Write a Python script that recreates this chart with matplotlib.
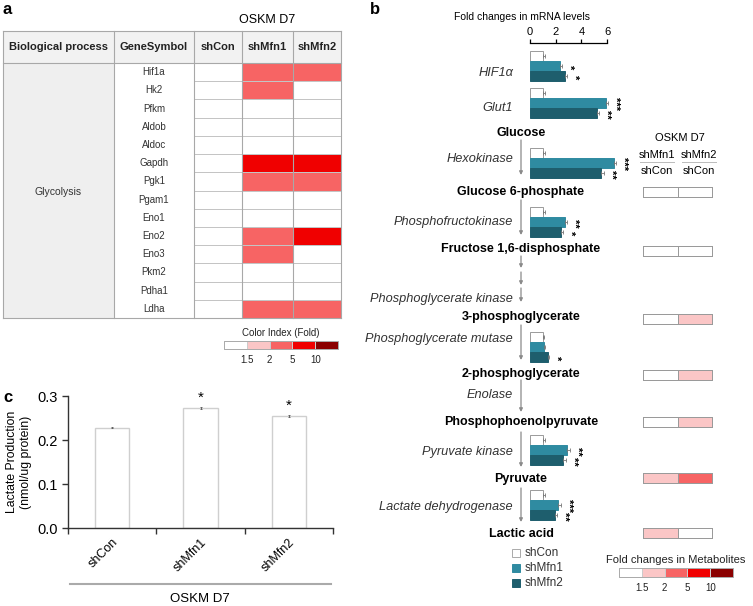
import numpy as np
import matplotlib.pyplot as plt
from matplotlib.colors import ListedColormap, BoundaryNorm
from matplotlib.patches import Rectangle

plt.rcParams['font.family'] = ['Liberation Sans', 'DejaVu Sans']

# ---- data ----
# panel a: fold-change colour class per gene (0: <1.5, 1: 1.5-2, 2: 2-5, 3: 5-10, 4: >10)
genes = ['Hif1a', 'Hk2', 'Pfkm', 'Aldob', 'Aldoc', 'Gapdh', 'Pgk1', 'Pgam1',
         'Eno1', 'Eno2', 'Eno3', 'Pkm2', 'Pdha1', 'Ldha']
table_head = ['Biological process', 'GeneSymbol', 'shCon', 'shMfn1', 'shMfn2']
lvl_shcon = [0, 0, 0, 0, 0, 0, 0, 0, 0, 0, 0, 0, 0, 0]
lvl_mfn1 = [2, 2, 0, 0, 0, 3, 2, 0, 0, 2, 2, 0, 0, 2]
lvl_mfn2 = [2, 0, 0, 0, 0, 3, 2, 0, 0, 3, 0, 0, 0, 2]
fold_ticks = ['1.5', '2', '5', '10']
level_colors = ['#ffffff', '#fbc6c6', '#f76464', '#f00000', '#8b0000']

# panel b: mRNA fold changes
enzymes = ['HIF1α', 'Glut1', 'Hexokinase', 'Phosphofructokinase',
           'Phosphoglycerate mutase', 'Pyruvate kinase', 'Lactate dehydrogenase']
mrna_shcon = [1.0, 1.0, 1.0, 1.0, 1.0, 1.0, 1.0]
mrna_mfn1 = [2.3, 5.9, 6.5, 2.7, 1.1, 2.9, 2.2]
mrna_mfn2 = [2.7, 5.2, 5.55, 2.4, 1.4, 2.6, 1.95]
err_shcon = [0.15, 0.15, 0.15, 0.15, 0.1, 0.15, 0.15]
err_mfn1 = [0.2, 0.2, 0.2, 0.2, 0.1, 0.2, 0.2]
err_mfn2 = [0.2, 0.2, 0.2, 0.15, 0.1, 0.2, 0.15]
stars_mfn1 = ['*', '***', '***', '**', '', '**', '***']
stars_mfn2 = ['*', '**', '**', '*', '*', '**', '**']

# metabolites (fold-change colour class, shMfn/shCon)
metabolites = ['Glucose 6-phosphate', 'Fructose 1,6-disphosphate', '3-phosphoglycerate',
               '2-phosphoglycerate', 'Phosphophoenolpyruvate', 'Pyruvate', 'Lactic acid']
met_mfn1 = [0, 0, 0, 0, 0, 1, 1]
met_mfn2 = [0, 0, 1, 1, 1, 2, 0]

# panel c: lactate production
groups = ['shCon', 'shMfn1', 'shMfn2']
lactate = [0.228, 0.272, 0.254]
lactate_err = [0.001, 0.002, 0.002]
lactate_stars = ['', '*', '*']
lactate_ticks = [0.0, 0.1, 0.2, 0.3]
lactate_ticklabels = ['0.0', '0.1', '0.2', '0.3']

# ---- figure ----
W, H = 753, 606
fig = plt.figure(figsize=(W / 100, H / 100), dpi=100)
cv = fig.add_axes([0, 0, 1, 1])
cv.set_xlim(0, W)
cv.set_ylim(H, 0)
cv.axis('off')

cmap = ListedColormap(level_colors)
norm = BoundaryNorm(np.arange(-0.5, 5.5, 1), cmap.N)
grey = '#a8a8a8'


def px_axes(x0, y0, x1, y1):
    return fig.add_axes([x0 / W, 1 - y1 / H, (x1 - x0) / W, (y1 - y0) / H])


def colour_key(x0, x1, y0, y1, title, title_size):
    edges = np.linspace(x0, x1, 6)
    cv.pcolormesh(edges, [y0, y1], [np.arange(5)], cmap=cmap, norm=norm,
                  edgecolors='#cccccc', linewidth=0.4)
    cv.add_patch(Rectangle((x0, y0), x1 - x0, y1 - y0, fill=False, ec='#aaaaaa', lw=0.7))
    cv.text((x0 + x1) / 2, y0 - 8, title, ha='center', va='center', fontsize=title_size, color='#222222')
    for xe, t in zip(edges[1:5], fold_ticks):
        cv.text(xe, y1 + 11, t, ha='center', va='center', fontsize=7, color='#222222')


# ---- panel a: table ----
cv.text(3, 10, 'a', fontsize=12, fontweight='bold', va='center')
col_x = [3, 114, 194, 242, 293, 341]
top, head_bot, bot = 31, 63, 318
row_edges = np.linspace(head_bot, bot, len(genes) + 1)
cv.text((col_x[2] + col_x[5]) / 2, 20, 'OSKM D7', ha='center', va='center', fontsize=9)
cv.add_patch(Rectangle((col_x[0], top), col_x[5] - col_x[0], head_bot - top, fc='#f2f2f2', ec='none'))
cv.add_patch(Rectangle((col_x[0], head_bot), col_x[1] - col_x[0], bot - head_bot, fc='#efefef', ec='none'))
cv.pcolormesh(col_x[2:], row_edges, np.array([lvl_shcon, lvl_mfn1, lvl_mfn2]).T,
              cmap=cmap, norm=norm, edgecolors='#c4c4c4', linewidth=0.4)
for xc in col_x:
    cv.plot([xc, xc], [top, bot], color=grey, lw=0.8)
for yr in (top, head_bot, bot):
    cv.plot([col_x[0], col_x[5]], [yr, yr], color=grey, lw=0.8)
for i, h in enumerate(table_head):
    cv.text((col_x[i] + col_x[i + 1]) / 2, (top + head_bot) / 2, h, ha='center', va='center',
            fontsize=8, fontweight='bold', color='#222222')
for i, g in enumerate(genes):
    cv.text((col_x[1] + col_x[2]) / 2, (row_edges[i] + row_edges[i + 1]) / 2, g,
            ha='center', va='center', fontsize=7, color='#333333')
cv.text((col_x[0] + col_x[1]) / 2, 192, 'Glycolysis', ha='center', va='center', fontsize=7.5, color='#333333')
colour_key(224, 338, 341, 349, 'Color Index (Fold)', 7)

# ---- panel b: pathway ----
cv.text(370, 10, 'b', fontsize=12, fontweight='bold', va='center')
cv.text(522, 17, 'Fold changes in mRNA levels', ha='center', va='center', fontsize=7.5)
arrow_x = 521
met_y = [133, 192, 249, 317, 374, 422, 479, 534]
for name, y in zip(['Glucose'] + metabolites, met_y):
    cv.text(arrow_x, y, name, ha='center', va='center', fontsize=9, fontweight='bold')
label_y = [73, 108, 159, 222, 339, 452, 507]
enz_style = dict(ha='right', va='center', fontsize=9.2, style='italic', color='#333333')
for name, y in zip(enzymes, label_y):
    cv.text(513, y, name, **enz_style)
cv.text(513, 299, 'Phosphoglycerate kinase', **enz_style)
cv.text(513, 395, 'Enolase', **enz_style)
arrows = [(140, 175), (200, 235), (256, 268), (272, 285), (288, 302), (325, 360),
          (380, 412), (432, 467), (488, 522)]
for y0, y1 in arrows:
    cv.annotate('', xy=(arrow_x, y1), xytext=(arrow_x, y0),
                arrowprops=dict(arrowstyle='-|>', color='#8a8a8a', lw=0.9,
                                mutation_scale=5, shrinkA=0, shrinkB=0))

axb = px_axes(530, 43, 640, 530)
axb.patch.set_visible(False)
axb.set_xlim(0, 110 / 12.85)
axb.set_ylim(530, 43)
group_top = [51, 88, 148, 207, 332, 435, 490]
bar_h = 10
series = [(mrna_shcon, err_shcon, 'white', '#9a9a9a', None),
          (mrna_mfn1, err_mfn1, '#2f8ba1', '#2f8ba1', stars_mfn1),
          (mrna_mfn2, err_mfn2, '#1e5e6d', '#1e5e6d', stars_mfn2)]
for k, (vals, errs, fc, ec, stars) in enumerate(series):
    ys = [g + bar_h / 2 + k * bar_h for g in group_top]
    axb.barh(ys, vals, height=bar_h, color=fc, edgecolor=ec, linewidth=0.7)
    axb.errorbar(vals, ys, xerr=[[0] * len(errs), errs], fmt='none', ecolor='#777777',
                 elinewidth=0.6, capsize=1.5, capthick=0.6)
    if stars:
        for v, e, y, s in zip(vals, errs, ys, stars):
            if s:
                axb.text(v + e + 0.15, y + 1, s, rotation=-90, ha='left', va='center',
                         fontsize=8, fontweight='bold')
for side in ('bottom', 'left', 'right'):
    axb.spines[side].set_visible(False)
axb.spines['top'].set_bounds(0, 6)
axb.spines['top'].set_linewidth(0.9)
axb.xaxis.tick_top()
axb.set_xticks([0, 2, 4, 6])
axb.tick_params(axis='x', labelsize=8, length=3, width=0.9, pad=1)
axb.set_yticks([])

# legend
for k, (lab, fc, ec) in enumerate([('shCon', 'white', '#aaaaaa'), ('shMfn1', '#2f8ba1', '#2f8ba1'),
                                   ('shMfn2', '#1e5e6d', '#1e5e6d')]):
    yk = 553 + k * 15
    cv.add_patch(Rectangle((512, yk - 4), 8, 8, fc=fc, ec=ec, lw=0.7))
    cv.text(525, yk, lab, va='center', fontsize=8.5, color='#333333')

# metabolite fold heatmap
cv.text(680, 138, 'OSKM D7', ha='center', va='center', fontsize=8)
for xc, lab in [(657, 'shMfn1'), (699, 'shMfn2')]:
    cv.text(xc, 155, lab, ha='center', va='center', fontsize=8)
    cv.plot([xc - 17, xc + 17], [162, 162], color='#bbbbbb', lw=0.7)
    cv.text(xc, 171, 'shCon', ha='center', va='center', fontsize=8)
met_box_y = [192, 251, 319, 375, 422, 478, 533]
for y, a1, a2 in zip(met_box_y, met_mfn1, met_mfn2):
    cv.pcolormesh([643, 678, 712], [y - 5, y + 5], [[a1, a2]], cmap=cmap, norm=norm,
                  edgecolors='#9a9a9a', linewidth=0.5)
colour_key(619, 733, 568, 577, 'Fold changes in Metabolites', 8)

# ---- panel c ----
cv.text(3, 398, 'c', fontsize=12, fontweight='bold', va='center')
axc = px_axes(68, 396, 333, 528)
xs = np.arange(len(groups))
axc.bar(xs, lactate, width=0.385, color='white', edgecolor='#cfcfcf', linewidth=1)
axc.errorbar(xs, lactate, yerr=lactate_err, fmt='none', ecolor='#555555', elinewidth=0.6,
             capsize=1, capthick=0.6)
for x, v, e, s in zip(xs, lactate, lactate_err, lactate_stars):
    if s:
        axc.text(x, v + e + 0.006, s, ha='center', va='bottom', fontsize=11)
axc.set_xlim(-0.5, 2.5)
axc.set_ylim(0, 0.3)
axc.set_yticks(lactate_ticks)
axc.set_yticklabels(lactate_ticklabels)
axc.set_xticks([-0.5, 0.5, 1.5, 2.5])
axc.set_xticklabels([])
axc.set_xticks(xs, minor=True)
axc.set_xticklabels(groups, minor=True, rotation=45, ha='right', rotation_mode='anchor')
axc.tick_params(axis='x', which='minor', length=0, labelsize=9, pad=6)
axc.tick_params(axis='both', which='major', length=4, width=1, color='#333333', labelsize=10.5)
for side in ('top', 'right'):
    axc.spines[side].set_visible(False)
for side in ('bottom', 'left'):
    axc.spines[side].set_color('#333333')
    axc.spines[side].set_linewidth(1)
axc.set_ylabel('Lactate Production\n(nmol/ug protein)', fontsize=8.8, labelpad=4)
cv.plot([70, 331], [584, 584], color='#aaaaaa', lw=1.5)
cv.text(200, 599, 'OSKM D7', ha='center', va='center', fontsize=9.5)

fig.savefig('out.png', dpi=100)
